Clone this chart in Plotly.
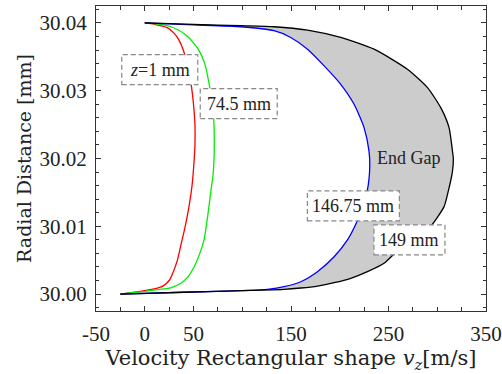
import plotly.graph_objects as go

# ---- data (velocity in m/s, radial distance in mm) ----
red_y = [30.0400, 30.0398, 30.0393, 30.0385, 30.0375, 30.0360, 30.0340, 30.0310, 30.0280,
         30.0250, 30.0220, 30.0190, 30.0160, 30.0130, 30.0100, 30.0075, 30.0050, 30.0030,
         30.0020, 30.0012, 30.0008, 30.0005, 30.0002, 30.0000]
red_x = [0, 10, 23, 30, 35, 39.5, 43.5, 47.5, 50, 51.5, 51.5, 50.3, 48.5, 45.5, 41.5, 37.5,
         33.5, 28.5, 25, 19, 11, 0, -14, -25]

green_y = [30.0400, 30.0397, 30.0390, 30.0380, 30.0361, 30.0340, 30.0302, 30.0270, 30.0247,
           30.0220, 30.0198, 30.0175, 30.0154, 30.0120, 30.0080, 30.0060, 30.0040, 30.0025,
           30.0016, 30.0010, 30.0008, 30.0006, 30.0004, 30.0002, 30.0000]
green_x = [0, 20, 34, 44, 55, 61.5, 67, 70, 71.1, 71.3, 71, 70, 68, 65, 60.8, 56.5, 50.6, 44,
           37, 28, 22, 10, 0, -13, -25]

blue_y = [30.0400, 30.03972, 30.03944, 30.03885, 30.03786, 30.03613, 30.03367, 30.03095,
          30.0280, 30.02455, 30.0211, 30.0190, 30.0170, 30.0154, 30.0130, 30.01084, 30.00798,
          30.00551, 30.00330, 30.00182, 30.00108, 30.00069, 30.00055, 30.00027, 30.0000]
blue_x = [0, 50, 98.5, 132.6, 149.7, 166.9, 184, 201, 214.7, 224.9, 230, 230.8, 230, 228.4,
          224, 218.2, 207.9, 194.2, 177.1, 160, 142.9, 125.8, 108.7, 40, -25]

black_y = [30.0400, 30.03978, 30.03959, 30.03944, 30.03894, 30.03786, 30.03613, 30.03317,
           30.03046, 30.02750, 30.02455, 30.0211, 30.0200, 30.0180, 30.0150, 30.0129, 30.0100,
           30.0080, 30.0066, 30.00454, 30.0033, 30.00232, 30.00167, 30.00118, 30.00089,
           30.00069, 30.00055, 30.00027, 30.0000]
black_x = [0, 50, 98.5, 132.6, 166.9, 201, 235.2, 269.4, 290, 303.6, 312.1, 315.6, 316.5,
           315.5, 311, 307, 293.3, 277.5, 260.8, 245.4, 228.4, 211.3, 194.2, 177.1, 160,
           142.9, 108.7, 40, -25]

x_tick_vals = [-50, 0, 50, 150, 250, 350]
x_tick_text = ["-50", "0", "50", "150", "250", "350"]
y_tick_vals = [30.00, 30.01, 30.02, 30.03, 30.04]
y_tick_text = ["30.00", "30.01", "30.02", "30.03", "30.04"]

label_text = ["<i>z</i>=1 mm", "74.5 mm", "146.75 mm", "149 mm"]
label_x = [15.4, 96.4, 214, 271.5]
label_y = [30.0331, 30.0281, 30.0130, 30.0080]
label_box_w = [76, 77, 92, 71]

gap_text = "End Gap"
gap_x = 271
gap_y = 30.0201

x_range = [-50, 350]
y_range = [29.9975, 30.0425]

FONT = "Liberation Serif"
TITLE_FONT = "DejaVu Serif"

fig = go.Figure()

# grey filled region between the blue and black profiles
fig.add_trace(go.Scatter(
    x=black_x + blue_x[::-1], y=black_y + blue_y[::-1],
    fill="toself", fillcolor="#cccccc", line=dict(width=0, shape="spline", smoothing=0.6),
    mode="lines", hoverinfo="skip", showlegend=False))

for xs, ys, col in [(red_x, red_y, "#ff0000"), (green_x, green_y, "#00ee00"),
                    (blue_x, blue_y, "#0000ff"), (black_x, black_y, "#000000")]:
    fig.add_trace(go.Scatter(x=xs, y=ys, mode="lines",
                             line=dict(color=col, width=1.3, shape="spline", smoothing=0.6),
                             showlegend=False))

for t, x, y, w in zip(label_text, label_x, label_y, label_box_w):
    fig.add_shape(type="rect", xref="x", yref="y", xsizemode="pixel", ysizemode="pixel",
                  xanchor=x, yanchor=y, x0=-w / 2, x1=w / 2, y0=-15, y1=15,
                  line=dict(color="#888888", width=1.2, dash="5px,3px"),
                  fillcolor="white", layer="above")
    fig.add_annotation(x=x, y=y, text=t, showarrow=False,
                       font=dict(family=FONT, size=18, color="#222"))

fig.add_annotation(x=gap_x, y=gap_y, text=gap_text, showarrow=False,
                   font=dict(family=FONT, size=18, color="#222"))

axis_common = dict(showline=True, linecolor="#333", linewidth=1, mirror="ticks",
                   ticks="inside", tickcolor="#333", showgrid=False, zeroline=False,
                   automargin=False, ticklabeloverflow="allow", ticklabelstandoff=4,
                   tickfont=dict(family=FONT, size=21, color="#222"))

fig.update_xaxes(range=x_range, tickmode="array", tickvals=x_tick_vals, ticktext=x_tick_text,
                 ticklen=5,
                 minor=dict(ticks="inside", dtick=25, tick0=-50, ticklen=4, tickcolor="#333"),
                 title=dict(text="Velocity Rectangular shape <i>v<sub>z</sub></i>[m/s]",
                            font=dict(family=TITLE_FONT, size=21, color="#222"), standoff=0),
                 **axis_common)
fig.update_yaxes(range=y_range, tickmode="array", tickvals=y_tick_vals, ticktext=y_tick_text,
                 ticklen=5,
                 minor=dict(ticks="inside", dtick=0.002, tick0=30.0, ticklen=3, tickcolor="#333"),
                 title=dict(text="Radial Distance [mm]",
                            font=dict(family=TITLE_FONT, size=19, color="#222"), standoff=2),
                 **axis_common)

fig.update_layout(width=502, height=374, margin=dict(l=96, r=16, t=6, b=63),
                  paper_bgcolor="white", plot_bgcolor="white")

fig.write_html("out.html", config={"displayModeBar": False},
               post_script="document.body.style.margin='0';document.body.style.overflow='hidden';")
